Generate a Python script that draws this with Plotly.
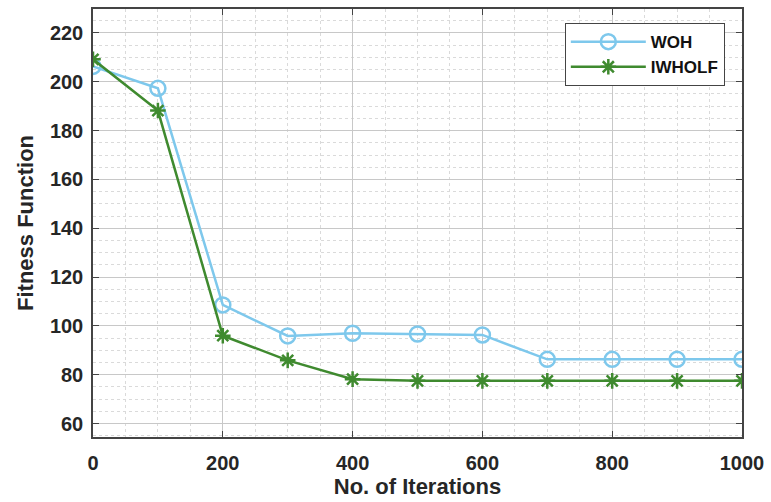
import plotly.graph_objects as go

iterations = [0, 100, 200, 300, 400, 500, 600, 700, 800, 900, 1000]
woh = [206.3, 197.3, 108.6, 95.9, 97.0, 96.7, 96.3, 86.3, 86.3, 86.3, 86.3]
iwholf = [209.2, 188.2, 96.0, 85.9, 78.2, 77.5, 77.5, 77.5, 77.5, 77.5, 77.5]

x_ticks = [0, 200, 400, 600, 800, 1000]
y_ticks = [60, 80, 100, 120, 140, 160, 180, 200, 220]

fig = go.Figure()
fig.add_trace(go.Scatter(
    x=iterations, y=woh, name="WOH", mode="lines+markers",
    line=dict(color="#7ec8ec", width=2.5),
    marker=dict(symbol="circle-open", size=15, color="#7ec8ec", line=dict(width=2.5, color="#7ec8ec")),
))
fig.add_trace(go.Scatter(
    x=iterations, y=iwholf, name="IWHOLF", mode="lines+markers",
    line=dict(color="#3f8a2f", width=2.5),
    marker=dict(symbol="asterisk-open", size=13, color="#3f8a2f", line=dict(width=2.5, color="#3f8a2f")),
))

axis_font = dict(family="Liberation Sans, Arial", size=20, color="#262626", weight="bold")
title_font = dict(family="Liberation Sans, Arial", size=22, color="#262626", weight="bold")

fig.update_xaxes(
    range=[0, 1000], tickvals=x_ticks, ticktext=[str(v) for v in x_ticks],
    showgrid=True, gridcolor="#c8c8c8", gridwidth=1,
    showline=True, linecolor="#444444", linewidth=1.5, mirror="ticks",
    ticks="inside", ticklen=6, tickcolor="#444444",
    tickfont=axis_font, zeroline=False, ticklabelstandoff=7, automargin=False,
    minor=dict(dtick=50, showgrid=True, gridcolor="#dadada", griddash="dot", gridwidth=1, ticks=""),
    title=dict(text="No. of Iterations", font=title_font, standoff=6),
)
fig.update_yaxes(
    range=[54.5, 229.8], tickvals=y_ticks, ticktext=[str(v) for v in y_ticks],
    showgrid=True, gridcolor="#c8c8c8", gridwidth=1,
    showline=True, linecolor="#444444", linewidth=1.5, mirror="ticks",
    ticks="inside", ticklen=6, tickcolor="#444444",
    tickfont=axis_font, zeroline=False, ticklabelstandoff=4, automargin=False,
    minor=dict(dtick=5, showgrid=True, gridcolor="#dadada", griddash="dot", gridwidth=1, ticks=""),
    title=dict(text="Fitness Function", font=title_font, standoff=10),
)

fig.update_layout(
    width=771, height=502,
    margin=dict(l=93, r=29, t=9, b=65),
    paper_bgcolor="white", plot_bgcolor="white",
    showlegend=True,
    legend=dict(
        x=0.727, y=0.967, xanchor="left", yanchor="top",
        bgcolor="white", bordercolor="#444444", borderwidth=1,
        font=dict(family="Liberation Sans, Arial", size=17, color="#111111", weight="bold"),
        itemwidth=75, tracegroupgap=0,
    ),
)

fig.write_html("out.html")
